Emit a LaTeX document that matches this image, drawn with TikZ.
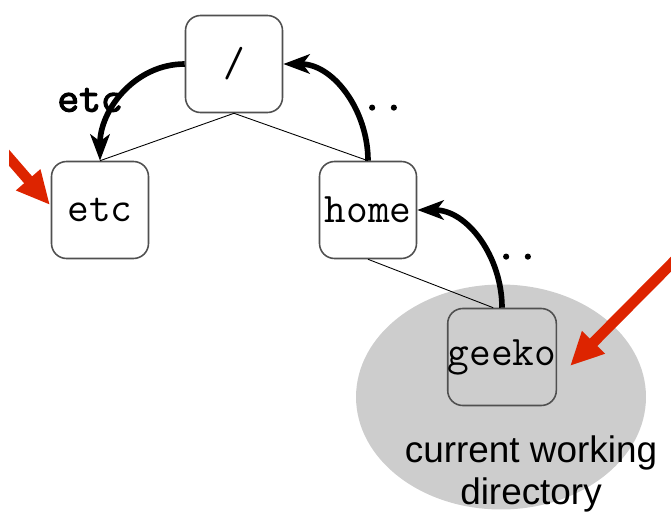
\documentclass[tikz,border=0pt]{standalone}
\usepackage{fontspec}
\setmainfont{Liberation Sans}
\newfontfamily\labelmono[FakeBold=3]{Latin Modern Mono}
\usetikzlibrary{arrows.meta,shapes.geometric}
\definecolor{redarrow}{RGB}{221,36,0}
\definecolor{boxline}{RGB}{80,80,80}
\definecolor{cwdfill}{RGB}{205,205,205}
\begin{document}
\begin{tikzpicture}[x=0.02cm,y=0.02cm,
  dirbox/.style={draw=boxline,line width=0.9pt,rounded corners=0.3cm,
    minimum width=1.94cm,minimum height=1.94cm,inner sep=0pt,
    font=\ttfamily\fontsize{24}{28}\selectfont},
  treeline/.style={draw=black,line width=0.5pt},
  movearrow/.style={draw=black,line width=3.2pt,-{Stealth[length=15pt,width=11pt,inset=4pt]}},
  pathlabel/.style={font=\labelmono\fontsize{24}{28}\selectfont},
  redarr/.style={draw=redarrow,line width=6pt,-{Triangle[length=19pt,width=17pt]}},
  cwdtext/.style={font=\fontsize{21}{25}\selectfont}]
\useasboundingbox (0,0) rectangle (671,-513);
\clip (0,0) rectangle (671,-513);
% current working directory highlight
\node[ellipse,fill=cwdfill,minimum width=5.8cm,minimum height=4.5cm,inner sep=0pt] (cwdarea) at (501,-397) {};
% directory boxes
\node[dirbox] (root) at (234,-64) {/};
\node[dirbox] (etc) at (100,-210) {etc};
\node[dirbox] (home) at (368,-210) {home};
\node[dirbox] (geeko) at (502,-357) {geeko};
% tree lines
\draw[treeline] (root.south) -- (etc.north);
\draw[treeline] (root.south) -- (home.north);
\draw[treeline] (home.south) -- ([xshift=-5]geeko.north);
% movement arrows
\draw[movearrow] (root.west) to[out=180,in=90] (etc.north);
\draw[movearrow] (home.north) to[out=90,in=0] (root.east);
\draw[movearrow] (geeko.north) to[out=90,in=0] (home.east);
% labels
\node[pathlabel] (lbletc) at (90,-100) {etc};
\node[pathlabel,anchor=base] (lbldots1) at (383,-110) {..};
\node[pathlabel,anchor=base] (lbldots2) at (517,-259) {..};
\node[cwdtext,anchor=base] (cwd1) at (531,-462) {current working};
\node[cwdtext,anchor=base] (cwd2) at (531,-504) {directory};
% red pointers
\begin{scope}
\clip (9,-100) rectangle (120,-260);
\coordinate (redstart1) at (-15,-130);
\coordinate (redtip1) at (50,-205);
\draw[redarr] (redstart1) -- (redtip1);
\end{scope}
\coordinate (redstart2) at (695,-240);
\coordinate (redtip2) at (570,-366);
\draw[redarr] (redstart2) -- (redtip2);
\end{tikzpicture}
\end{document}
